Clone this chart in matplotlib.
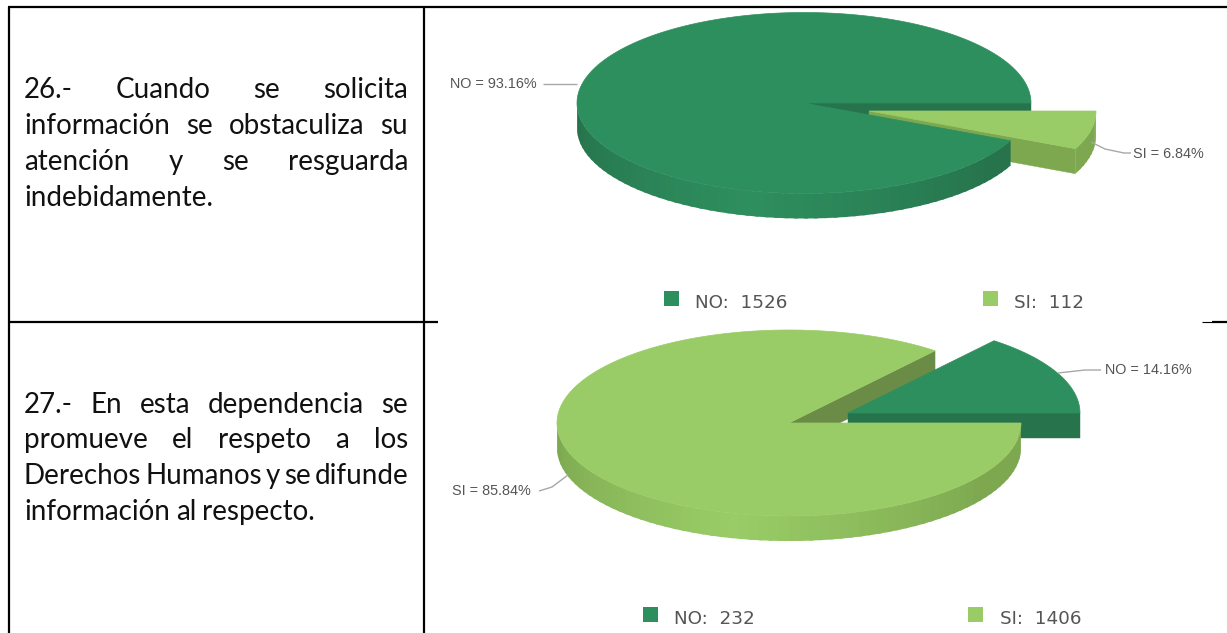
import numpy as np
import matplotlib
matplotlib.use('Agg')
import matplotlib.pyplot as plt
from matplotlib.colors import to_rgb
from matplotlib.patches import Polygon, Rectangle

# data
labels = ['NO', 'SI']
counts_26 = [1526, 112]
counts_27 = [232, 1406]
text_26 = ['26.- Cuando se solicita', 'información se obstaculiza su',
           'atención y se resguarda', 'indebidamente.']
text_27 = ['27.- En esta dependencia se', 'promueve el respeto a los',
           'Derechos Humanos y se difunde', 'información al respecto.']

DARK = '#2e8f5e'
DARK_WALL = '#26734c'
LIGHT = '#99cc66'
LIGHT_WALL = '#7da850'
OLIVE = '#6b8c47'

fig = plt.figure(figsize=(12.27, 6.33), dpi=100)
ax = fig.add_axes([0, 0, 1, 1])
ax.set_xlim(0, 1227)
ax.set_ylim(633, 0)
ax.axis('off')


def arc(cx, cy, rx, ry, a0, a1, n=120):
    t = np.radians(np.linspace(a0, a1, n))
    return np.column_stack([cx + rx * np.cos(t), cy - ry * np.sin(t)])


def sector(cx, cy, rx, ry, a0, a1, color, z):
    pts = np.vstack([[cx, cy], arc(cx, cy, rx, ry, a0, a1, 300)])
    ax.add_patch(Polygon(pts, closed=True, fc=color, ec=color, lw=0.5, zorder=z))


def outer_wall(cx, cy, rx, ry, depth, a0, a1, bright, dim, z):
    # shaded strip, brightest a bit left of the front
    steps = np.arange(a0, a1, 2.5)
    for a in steps:
        f = np.clip(abs(((a + 105 + 180) % 360) - 180) / 70.0, 0, 1)
        col = np.array(to_rgb(bright)) * (1 - f) + np.array(to_rgb(dim)) * f
        # runs on past the next step so the seams do not show
        top = arc(cx, cy, rx, ry, a, min(a + 3.5, a1), 6)
        bot = top[::-1] + [0, depth]
        ax.add_patch(Polygon(np.vstack([top, bot]), closed=True, fc=col, ec='none', zorder=z))


def radial_wall(cx, cy, rx, ry, depth, a, color, z):
    p = arc(cx, cy, rx, ry, a, a, 1)[0]
    pts = [[cx, cy], p, p + [0, depth], [cx, cy + depth]]
    ax.add_patch(Polygon(pts, closed=True, fc=color, ec=color, lw=0.3, zorder=z))


def leader(xs, ys):
    ax.plot(xs, ys, color='#a8a8a8', lw=1.0, zorder=6, solid_capstyle='butt')


def justified(lines, x0, x1, baselines, size=20):
    r = fig.canvas.get_renderer()
    for i, (line, y) in enumerate(zip(lines, baselines)):
        words = line.split(' ')
        items = [ax.text(0, y, w, fontsize=size, family='Lato', color='#111111', va='baseline', ha='left')
                 for w in words]
        inv = ax.transData.inverted()
        widths = []
        for t in items:
            e = t.get_window_extent(r)
            widths.append(inv.transform((e.x1, 0))[0] - inv.transform((e.x0, 0))[0])
        gap = size * 0.3
        if i < len(lines) - 1:
            gap = (x1 - x0 - sum(widths)) / (len(words) - 1)
        x = x0
        for t, w in zip(items, widths):
            t.set_x(x)
            x += w + gap


def legend(xs, y, counts):
    for (sq_x, tx_x), lab, val, col in zip(xs, labels, counts, [DARK, LIGHT]):
        ax.add_patch(Rectangle((sq_x, y), 15, 15, fc=col, ec='none', zorder=5))
        ax.text(tx_x, y + 12, f'{lab}:  {val}', fontsize=13.2, family='DejaVu Sans',
                color='#555555', va='center', ha='left')


def pct(counts, i):
    return f'{labels[i]} = {100 * counts[i] / sum(counts):.2f}%'


# table rules
for xs, ys, w in [([8, 1227], [7, 7], 2.0), ([9, 9], [7, 633], 2.0), ([424, 424], [7, 633], 2.0),
                  ([9, 438], [322, 322], 2.0), ([1202, 1212], [322, 322], 1.0), ([1212, 1227], [322, 322], 2.0)]:
    ax.plot(xs, ys, color='black', lw=w * 0.8, zorder=8, solid_capstyle='butt')

justified(text_26, 24, 408, [98, 134, 170, 206])
justified(text_27, 24, 408, [413, 448, 484, 520])

# pie 26: SI slice pulled out, runs clockwise from 3 o'clock
ang = 360 * counts_26[1] / sum(counts_26)
cx, cy, rx, ry, d = 804, 103, 227, 90.5, 25
ox, oy = 65, 8
radial_wall(cx, cy, rx, ry, d, 0, DARK_WALL, 1)
outer_wall(cx + ox, cy + oy, rx, ry, d, -ang, 0, LIGHT_WALL, LIGHT_WALL, 2)
radial_wall(cx + ox, cy + oy, rx, ry, d, -ang, LIGHT_WALL, 2)
sector(cx + ox, cy + oy, rx, ry, -ang, 0, LIGHT, 3)
outer_wall(cx, cy, rx, ry, d, -180, -ang, DARK, DARK_WALL, 4)
sector(cx, cy, rx, ry, 0, 360 - ang, DARK, 5)

leader([543, 577], [84, 84])
ax.text(450, 84, pct(counts_26, 0), fontsize=10.4, family='Liberation Sans', color='#555555', va='center')
leader([1091, 1105, 1124, 1131], [142, 149, 153, 153])
ax.text(1133, 154, pct(counts_26, 1), fontsize=10.4, family='Liberation Sans', color='#555555', va='center')
legend([(664, 695), (983, 1014)], 291, counts_26)

# pie 27: NO slice pulled out, runs counter-clockwise from 3 o'clock
ang = 360 * counts_27[0] / sum(counts_27)
cx, cy, rx, ry, d = 789, 423, 232, 93, 25
ox, oy = 59, -10
radial_wall(cx, cy, rx, ry, d, ang, OLIVE, 1)
radial_wall(cx + ox, cy + oy, rx, ry, d, 0, DARK_WALL, 2)
sector(cx + ox, cy + oy, rx, ry, 0, ang, DARK, 3)
outer_wall(cx, cy, rx, ry, d, -180, 0, LIGHT, LIGHT_WALL, 4)
sector(cx, cy, rx, ry, ang, 360, LIGHT, 5)

leader([1058, 1085, 1101], [373, 370, 370])
ax.text(1105, 370, pct(counts_27, 0), fontsize=10.4, family='Liberation Sans', color='#555555', va='center')
leader([568, 552, 539], [475, 487, 491])
ax.text(452, 491, pct(counts_27, 1), fontsize=10.4, family='Liberation Sans', color='#555555', va='center')
legend([(643, 674), (968, 1000)], 607, counts_27)

fig.savefig('out.png', dpi=100)
